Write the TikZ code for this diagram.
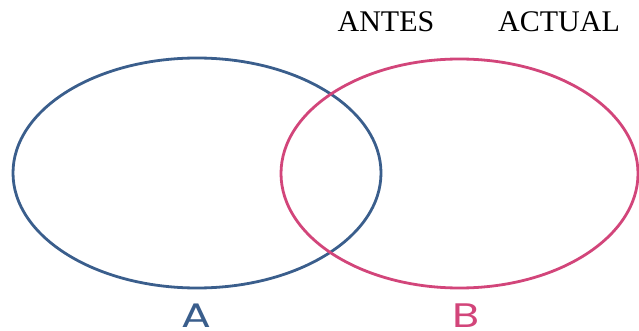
\documentclass[tikz,border=0pt]{standalone}
\usepackage{fontspec}
\setmainfont{Liberation Serif}
\newfontfamily\labfont{Poppins}
\definecolor{setA}{HTML}{3A5E8C}
\definecolor{setB}{HTML}{D2457A}
\begin{document}
\begin{tikzpicture}[x=1pt,y=-1pt,
  setline/.style={line width=2.8pt},
  toptext/.style={anchor=base,font=\fontsize{30}{30}\selectfont,inner sep=0pt},
  setlabel/.style={anchor=base,font=\labfont\fontsize{34}{34}\selectfont,inner sep=0pt,xscale=1.3}]
\useasboundingbox (0,0) rectangle (639,331);
\draw[setline,setA] (197,173) ellipse [x radius=184, y radius=115];
\draw[setline,setB] (459.5,173.5) ellipse [x radius=178.5, y radius=114.5];
\node[toptext] (antes) at (386,32) {ANTES};
\node[toptext] (actual) at (559,32) {ACTUAL};
\node[setlabel,text=setA] (la) at (196.5,327.5) {A};
\node[setlabel,text=setB] (lb) at (466,327.5) {B};
\end{tikzpicture}
\end{document}
